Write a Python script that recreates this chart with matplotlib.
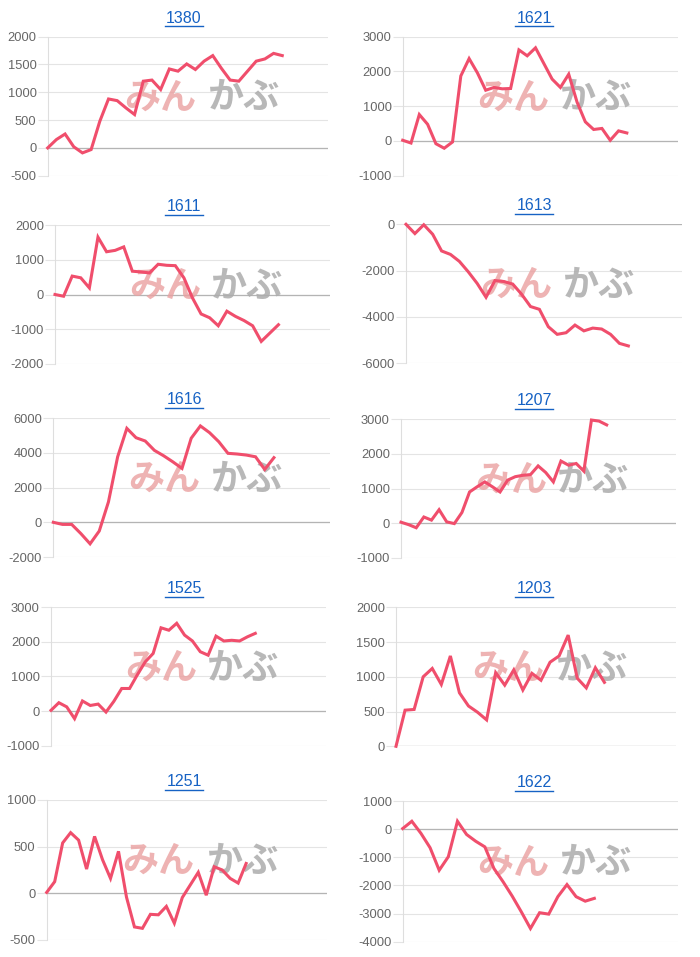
import matplotlib
matplotlib.use("Agg")
import matplotlib.pyplot as plt
from matplotlib.lines import Line2D

plt.rcParams['font.family'] = ['Liberation Sans', 'DejaVu Sans']
plt.rcParams['axes.unicode_minus'] = False

# panel titles, in reading order
titles = ["1380", "1621", "1611", "1613", "1616", "1207", "1525", "1203", "1251", "1622"]

s1380 = [0, 150, 250, 20, -90, -30, 480, 880, 850, 720, 600, 1200, 1220, 1050, 1420,
         1380, 1510, 1410, 1560, 1660, 1430, 1220, 1200, 1380, 1560, 1600, 1700, 1660]
s1621 = [20, -60, 760, 480, -80, -210, -30, 1870, 2370, 1960, 1460, 1540, 1500, 1510,
         2620, 2450, 2680, 2230, 1780, 1540, 1920, 1120, 550, 330, 360, 20, 290, 230]
s1611 = [0, -50, 530, 480, 190, 1650, 1230, 1270, 1370, 670, 650, 620, 870, 840, 830,
         480, -100, -560, -670, -900, -480, -630, -750, -900, -1350, -1110, -870]
s1613 = [0, -400, -20, -430, -1150, -1300, -1600, -2050, -2550, -3150, -2430, -2470,
         -2580, -3020, -3550, -3670, -4420, -4750, -4680, -4350, -4600, -4480, -4520,
         -4750, -5140, -5250]
s1616 = [0, -120, -120, -650, -1240, -500, 1180, 3780, 5420, 4880, 4690, 4150, 3840,
         3490, 3110, 4850, 5560, 5170, 4650, 3980, 3940, 3880, 3780, 3050, 3730]
s1207 = [30, -40, -130, 180, 90, 390, 40, -10, 310, 900, 1050, 1190, 1050, 900, 1240,
         1340, 1380, 1400, 1650, 1460, 1190, 1790, 1670, 1720, 1500, 2970, 2940, 2830]
s1525 = [20, 240, 120, -220, 290, 160, 200, -30, 280, 650, 650, 1050, 1420, 1660, 2400,
         2330, 2530, 2190, 2020, 1710, 1610, 2160, 2020, 2040, 2020, 2140, 2240]
s1203 = [0, 520, 530, 1000, 1120, 890, 1300, 770, 580, 490, 380, 1060, 880, 1100, 810,
         1050, 950, 1210, 1300, 1600, 980, 840, 1130, 920]
s1251 = [10, 125, 540, 650, 570, 260, 610, 360, 160, 450, -40, -360, -375, -225, -230,
         -140, -320, -45, 90, 225, -20, 285, 250, 160, 110, 320]
s1622 = [20, 280, -150, -660, -1460, -980, 280, -190, -430, -630, -1400, -1870, -2380,
         -2940, -3530, -2970, -3020, -2400, -1970, -2400, -2560, -2460]

series = [s1380, s1621, s1611, s1613, s1616, s1207, s1525, s1203, s1251, s1622]

# y axis range and tick step per panel
y_ranges = [(-500, 2000, 500), (-1000, 3000, 1000), (-2000, 2000, 1000), (-6000, 0, 2000),
            (-2000, 6000, 2000), (-1000, 3000, 1000), (-1000, 3000, 1000), (0, 2000, 500),
            (-500, 1000, 500), (-4000, 1000, 1000)]

# length of the category axis of each panel
x_spans = [32.3, 33.2, 32.0, 31.0, 30.1, 36.1, 35.0, 30.9, 35.1, 30.2]

# axes boxes in pixels: left, top, right, bottom
boxes = [(47.7, 36.7, 328.3, 175.7), (402.7, 36.7, 678.3, 175.7),
         (55, 225, 330, 364), (406, 224.3, 681.7, 363.3),
         (53.3, 418.3, 330, 557), (401, 419, 676, 558),
         (51, 607, 326, 745.7), (396, 607.3, 676, 746.3),
         (46.7, 800, 326.7, 940), (402.7, 801, 678.3, 941.7)]

W, H = 700, 957
fig = plt.figure(figsize=(W / 100, H / 100), dpi=100)
fig.patch.set_facecolor('white')

line_col = '#f04e6c'
grid_col = '#e4e4e4'
wm_font = ['Noto Sans CJK JP', 'DejaVu Sans']

for i, (title, vals) in enumerate(zip(titles, series)):
    l, t, r, b = boxes[i]
    ax = fig.add_axes([l / W, 1 - b / H, (r - l) / W, (b - t) / H])
    lo, hi, step = y_ranges[i]

    ax.plot(range(len(vals)), vals, color=line_col, lw=2.2, zorder=3,
            solid_joinstyle='miter', clip_on=False)

    ax.set_xlim(0, x_spans[i])
    ax.set_ylim(lo, hi)
    ax.set_yticks(range(lo, hi + 1, step))
    ax.set_xticks([])
    ax.grid(axis='y', color=grid_col, lw=0.8)
    ax.set_axisbelow(True)
    if lo <= 0 <= hi:
        ax.axhline(0, color='#b4b4b4', lw=0.9, zorder=1)
    for side in ['top', 'right', 'bottom']:
        ax.spines[side].set_visible(False)
    ax.spines['left'].set_color('#dedede')
    ax.spines['left'].set_linewidth(0.8)
    ax.tick_params(axis='y', length=7, width=0.8, color=grid_col,
                   labelcolor='#666666', labelsize=9.3, pad=1)

    # watermark
    ax.text(0.40, 0.56, "みん", transform=ax.transAxes, ha='center', va='center',
            fontsize=26, fontweight='bold', color='#eaa0a0', alpha=0.8,
            family=wm_font, zorder=2)
    ax.text(0.70, 0.56, "かぶ", transform=ax.transAxes, ha='center', va='center',
            fontsize=26, fontweight='bold', color='#acacac', alpha=0.85,
            family=wm_font, zorder=2)

    # underlined link-style title
    cx = 184 if i % 2 == 0 else 534
    ty = t - 18.5
    fig.text(cx / W, 1 - ty / H, title, ha='center', va='center',
             fontsize=11.5, color='#1662c4')
    fig.add_artist(Line2D([(cx - 19) / W, (cx + 19) / W],
                          [1 - (ty + 8) / H, 1 - (ty + 8) / H],
                          color='#1662c4', lw=1.0))

fig.savefig("out.png", dpi=100, facecolor='white')
